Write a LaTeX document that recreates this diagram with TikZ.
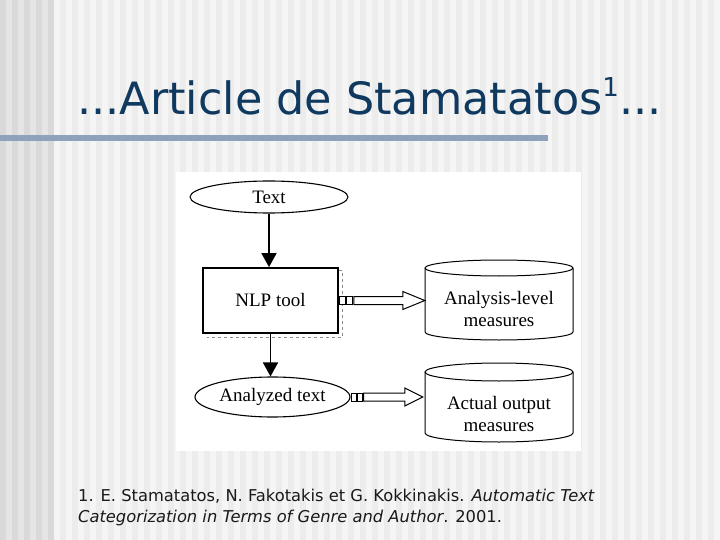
\documentclass[tikz,border=0pt]{standalone}
\usepackage{fontspec}
\setmainfont{Liberation Serif}
\newfontfamily\titlefont{DejaVu Sans}
\newfontfamily\notefont{DejaVu Sans}
\usetikzlibrary{arrows.meta,shapes.geometric,calc}
\definecolor{titleblue}{HTML}{10395F}
\definecolor{barc}{HTML}{8EA2BC}
\definecolor{bgdark}{HTML}{D9D9D9}
\definecolor{bgmid}{HTML}{E5E5E5}
\definecolor{bglight}{HTML}{F5F5F5}
\definecolor{bgstripe}{HTML}{ECECEC}
\tikzset{
  ell/.style={draw, ellipse, line width=1.1pt, fill=white, inner sep=0pt, font=\fontsize{19}{22}\selectfont},
  nlpbox/.style={draw, rectangle, line width=1.8pt, fill=white, inner sep=0pt, font=\fontsize{19}{22}\selectfont},
  cyltext/.style={inner sep=0pt, align=center, font=\fontsize{19}{22}\selectfont},
  cylline/.style={draw, line width=1pt},
  downarr/.style={line width=1.8pt, -{Triangle[width=15pt,length=14pt]}},
  blockarr/.style={draw, line width=1pt, fill=white, line join=miter},
  sq/.style={draw, line width=0.9pt, fill=white},
  titlestyle/.style={inner sep=0pt, text=titleblue, font=\titlefont\fontsize{44.5}{50}\selectfont},
  note/.style={inner sep=0pt, text=black!90, font=\notefont\fontsize{16.3}{20}\selectfont}
}
\begin{document}
\begin{tikzpicture}[x=1pt,y=-1pt]
\useasboundingbox (0,0) rectangle (720,540);
% background
\fill[bglight] (0,0) rectangle (720,540);
\fill[bgmid] (0,0) rectangle (54,540);
\foreach \i in {0,...,4} \fill[bgdark] (12*\i,0) rectangle ++(6,540);
\foreach \i in {5,...,59} \fill[bgstripe] (12*\i,0) rectangle ++(6,540);
% title
\node[titlestyle, anchor=base west] (title) at (77,115) {...Article de Stamatatos\raisebox{0.42em}{\fontsize{26}{26}\selectfont 1}...};
\fill[barc] (0,135) rectangle (548,141);
% image area
\fill[white] (176,172) rectangle (581,451);
% nodes
\node[ell, minimum width=158, minimum height=32] (text) at (269,197) {Text};
\draw[line width=0.6pt, dashed, black!45] ($(270.5,300.5)+(68,-30)$) -- ($(270.5,300.5)+(72,-30)$) -- ($(270.5,300.5)+(72,36.5)$) -- ($(270.5,300.5)+(-64,36.5)$);
\node[nlpbox, minimum width=135, minimum height=65] (nlp) at (270.5,300.5) {NLP tool};
\node[ell, minimum width=155, minimum height=40] (ana) at (272.5,397) {Analyzed text};
\node[cyltext, minimum width=148] (cyl1) at (499,309) {Analysis-level\\measures};
\node[cyltext, minimum width=148] (cyl2) at (499,414) {Actual output\\measures};
% cylinders
\draw[cylline] ($(cyl1.center)+(0,-41)$) ellipse [x radius=74pt, y radius=8pt];
\draw[cylline] ($(cyl1.center)+(-74,-41)$) -- ($(cyl1.center)+(-74,23)$)
  arc[start angle=180, end angle=360, x radius=74pt, y radius=8pt] -- ($(cyl1.center)+(74,-41)$);
\draw[cylline] ($(cyl2.center)+(0,-42)$) ellipse [x radius=74pt, y radius=9pt];
\draw[cylline] ($(cyl2.center)+(-74,-42)$) -- ($(cyl2.center)+(-74,19)$)
  arc[start angle=180, end angle=360, x radius=74pt, y radius=9pt] -- ($(cyl2.center)+(74,-42)$);
% vertical connectors
\draw[downarr] (text.south) -- (text.south |- nlp.north);
\draw[downarr] (nlp.south) -- (nlp.south |- ana.north);
% block arrows
\draw[blockarr] let \p1=(nlp.east), \p2=(cyl1.west) in
  (\x2,\y1) -- (\x2-22pt,\y1+9pt) -- (\x2-22pt,\y1+4pt) -- (\x1+15pt,\y1+4pt)
  -- (\x1+15pt,\y1-4pt) -- (\x2-22pt,\y1-4pt) -- (\x2-22pt,\y1-9pt) -- cycle;
\draw[sq] let \p1=(nlp.east) in
  (\x1+1pt,\y1-4pt) rectangle (\x1+7pt,\y1+4pt)
  (\x1+8pt,\y1-4pt) rectangle (\x1+14pt,\y1+4pt);
\draw[blockarr] let \p1=(ana.east), \p2=(cyl2.west) in
  (\x2-2pt,\y1) -- (\x2-20pt,\y1+9pt) -- (\x2-20pt,\y1+4pt) -- (\x1+13pt,\y1+4pt)
  -- (\x1+13pt,\y1-4pt) -- (\x2-20pt,\y1-4pt) -- (\x2-20pt,\y1-9pt) -- cycle;
\draw[sq] let \p1=(ana.east) in
  (\x1+1pt,\y1-4pt) rectangle (\x1+6pt,\y1+4pt)
  (\x1+7pt,\y1-4pt) rectangle (\x1+12pt,\y1+4pt);
% footnote
\node[note, anchor=base west] (fn1) at (78,501) {1. E. Stamatatos, N. Fakotakis et G. Kokkinakis. \textit{Automatic Text}};
\node[note, anchor=base west] (fn2) at (78,522) {\textit{Categorization in Terms of Genre and Author}. 2001.};
\end{tikzpicture}
\end{document}
